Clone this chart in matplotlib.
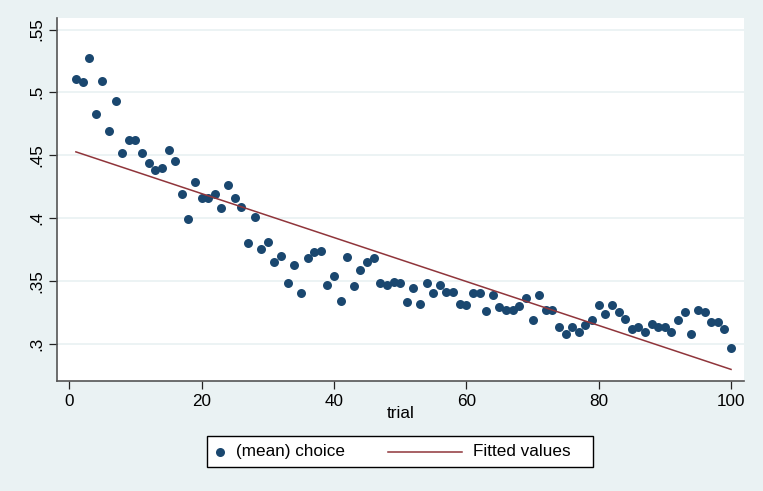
import numpy as np
import matplotlib.pyplot as plt
from matplotlib.lines import Line2D
from matplotlib.patches import Rectangle

# mean choice per trial
trial = np.arange(1, 101)
choice = np.array([
    .511, .508, .527, .483, .509, .469, .493, .452, .462, .462,
    .452, .444, .438, .440, .454, .445, .419, .399, .429, .416,
    .416, .419, .408, .426, .416, .409, .380, .401, .375, .381,
    .365, .370, .348, .363, .340, .368, .373, .374, .347, .354,
    .334, .369, .346, .359, .365, .368, .348, .347, .349, .348,
    .333, .344, .332, .348, .340, .347, .341, .341, .332, .331,
    .340, .340, .326, .339, .329, .327, .327, .330, .336, .319,
    .339, .327, .327, .313, .308, .313, .309, .315, .319, .331,
    .324, .331, .325, .320, .312, .313, .309, .316, .313, .313,
    .309, .319, .325, .308, .327, .325, .317, .317, .312, .297,
])
xticks = [0, 20, 40, 60, 80, 100]
yticks = [.3, .35, .4, .45, .5, .55]
yticklabels = ['.3', '.35', '.4', '.45', '.5', '.55']
labels = ['(mean) choice', 'Fitted values']

# linear fit of choice on trial
slope, icept = np.polyfit(trial, choice, 1)
fitted = icept + slope * trial

bg = '#EAF2F3'
navy = '#1A476F'
maroon = '#90353B'
W, H = 763, 491
fs = 12.3

plt.rcParams['font.family'] = ['Liberation Sans', 'DejaVu Sans']
fig = plt.figure(figsize=(W / 100, H / 100), dpi=100, facecolor=bg)
l, t, r, b = 57.3, 17.7, 744, 380.7
ax = fig.add_axes([l / W, 1 - b / H, (r - l) / W, (b - t) / H])
ax.set_facecolor('white')

ax.scatter(trial, choice, s=42, color=navy, linewidths=0, zorder=3)
ax.plot(trial, fitted, color=maroon, lw=1.1, zorder=4)

ax.set_xlim(-1.81, 101.96)
ax.set_ylim(0.2706, 0.5594)
ax.set_xticks(xticks)
ax.set_yticks(yticks)
ax.set_yticklabels(yticklabels, rotation=90, va='center')
ax.tick_params(labelsize=fs, length=6, width=0.9, color='#222222', pad=3.5)
ax.grid(axis='y', color=bg, lw=1.3)
ax.set_axisbelow(True)
for s in ['top', 'right']:
    ax.spines[s].set_visible(False)
for s in ['left', 'bottom']:
    ax.spines[s].set_color('#555555')
    ax.spines[s].set_linewidth(1.2)
ax.set_xlabel('trial', fontsize=fs, labelpad=-2)

# legend box below the plot, drawn in pixel units
def px(x, y):
    return x / W, 1 - y / H

x0, y0 = px(207.3, 467.3)
x1, y1 = px(593.3, 435.7)
fig.add_artist(Rectangle((x0, y0), x1 - x0, y1 - y0, transform=fig.transFigure,
                         facecolor='white', edgecolor='black', lw=1.0))
ym = 451.5
fig.add_artist(Line2D([px(220, 0)[0]], [px(0, ym)[1]], transform=fig.transFigure,
                      marker='o', ms=6.5, color=navy, mew=0, ls='none'))
fig.text(*px(236.5, ym), labels[0], fontsize=fs, va='center', ha='left')
fig.add_artist(Line2D([px(388, 0)[0], px(462, 0)[0]], [px(0, ym)[1]] * 2,
                      transform=fig.transFigure, color=maroon, lw=1.1))
fig.text(*px(473, ym), labels[1], fontsize=fs, va='center', ha='left')

fig.savefig('out.png', dpi=100, facecolor=bg)
